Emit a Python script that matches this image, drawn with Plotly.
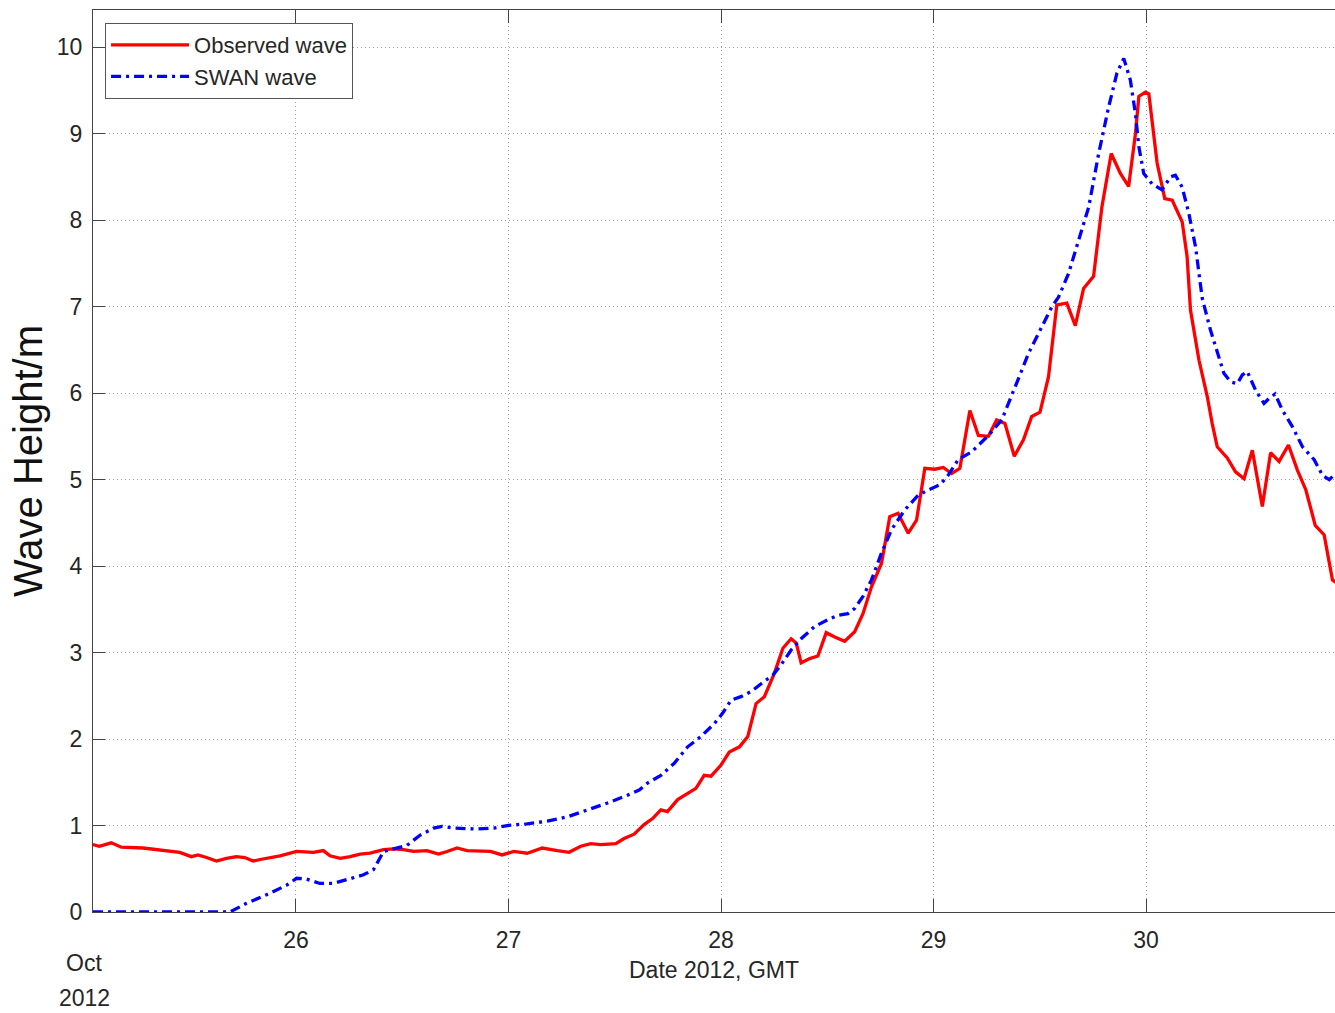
import plotly.graph_objects as go

# Day of October 2012 (GMT) and significant wave height (m)
obs_day = [25.044, 25.075, 25.131, 25.178, 25.280, 25.374, 25.453, 25.508, 25.539, 25.579,
           25.626, 25.673, 25.720, 25.759, 25.799, 25.838, 25.925, 26.003, 26.082, 26.129,
           26.160, 26.208, 26.255, 26.302, 26.349, 26.412, 26.459, 26.506, 26.553, 26.616,
           26.671, 26.711, 26.758, 26.805, 26.868, 26.915, 26.970, 27.025, 27.088, 27.159,
           27.230, 27.285, 27.340, 27.387, 27.434, 27.505, 27.544, 27.591, 27.638, 27.678,
           27.717, 27.748, 27.796, 27.843, 27.882, 27.921, 27.953, 28.000, 28.039, 28.087,
           28.126, 28.165, 28.204, 28.251, 28.291, 28.330, 28.354, 28.377, 28.417, 28.456,
           28.495, 28.535, 28.582, 28.629, 28.668, 28.708, 28.755, 28.794, 28.833, 28.881,
           28.920, 28.959, 29.006, 29.046, 29.085, 29.124, 29.171, 29.211, 29.258, 29.297,
           29.336, 29.380, 29.423, 29.462, 29.501, 29.541, 29.580, 29.627, 29.667, 29.706,
           29.753, 29.792, 29.836, 29.879, 29.918, 29.950, 29.966, 29.997, 30.013, 30.052,
           30.088, 30.123, 30.170, 30.193, 30.209, 30.249, 30.288, 30.311, 30.335, 30.382,
           30.421, 30.461, 30.500, 30.547, 30.586, 30.626, 30.670, 30.712, 30.752, 30.796,
           30.838, 30.877, 30.901]
obs_height = [0.78, 0.76, 0.80, 0.75, 0.74, 0.71, 0.69, 0.64, 0.66, 0.63,
              0.59, 0.62, 0.64, 0.63, 0.59, 0.61, 0.65, 0.70, 0.69, 0.71,
              0.65, 0.62, 0.64, 0.67, 0.68, 0.72, 0.73, 0.72, 0.70, 0.71,
              0.67, 0.70, 0.74, 0.71, 0.70, 0.70, 0.66, 0.70, 0.68, 0.74,
              0.71, 0.69, 0.76, 0.79, 0.78, 0.79, 0.85, 0.90, 1.01, 1.08,
              1.18, 1.16, 1.30, 1.37, 1.43, 1.58, 1.57, 1.70, 1.85, 1.91,
              2.03, 2.41, 2.49, 2.76, 3.05, 3.16, 3.11, 2.88, 2.93, 2.96,
              3.23, 3.18, 3.13, 3.24, 3.45, 3.76, 4.03, 4.57, 4.61, 4.38,
              4.53, 5.13, 5.12, 5.14, 5.07, 5.13, 5.80, 5.51, 5.50, 5.69,
              5.65, 5.27, 5.46, 5.73, 5.78, 6.19, 7.02, 7.04, 6.78, 7.21,
              7.35, 8.15, 8.77, 8.54, 8.39, 9.00, 9.43, 9.48, 9.46, 8.66,
              8.25, 8.23, 7.98, 7.58, 6.96, 6.38, 5.96, 5.65, 5.38, 5.25,
              5.09, 5.01, 5.34, 4.69, 5.31, 5.21, 5.40, 5.11, 4.88, 4.47,
              4.36, 3.84, 3.80]

swan_day = [25.045, 25.689, 25.767, 25.862, 25.956, 26.003, 26.050, 26.113, 26.176, 26.239,
            26.318, 26.365, 26.412, 26.459, 26.522, 26.585, 26.648, 26.687, 26.742, 26.852,
            26.931, 26.994, 27.088, 27.182, 27.277, 27.371, 27.466, 27.560, 27.615, 27.654,
            27.717, 27.780, 27.843, 27.906, 27.969, 28.008, 28.047, 28.094, 28.142, 28.189,
            28.244, 28.283, 28.330, 28.377, 28.440, 28.503, 28.550, 28.597, 28.629, 28.668,
            28.708, 28.755, 28.802, 28.865, 28.928, 28.975, 29.030, 29.069, 29.116, 29.179,
            29.258, 29.321, 29.360, 29.400, 29.447, 29.494, 29.557, 29.588, 29.635, 29.683,
            29.730, 29.777, 29.824, 29.863, 29.895, 29.926, 29.950, 29.966, 29.989, 30.028,
            30.075, 30.115, 30.138, 30.170, 30.201, 30.233, 30.264, 30.303, 30.335, 30.366,
            30.398, 30.429, 30.453, 30.476, 30.516, 30.555, 30.579, 30.607, 30.642, 30.689,
            30.736, 30.791, 30.830, 30.862, 30.901]
swan_height = [0.00, 0.00, 0.10, 0.20, 0.31, 0.39, 0.38, 0.33, 0.33, 0.37,
               0.43, 0.49, 0.70, 0.73, 0.77, 0.89, 0.97, 0.99, 0.97, 0.96,
               0.97, 1.00, 1.02, 1.05, 1.10, 1.18, 1.26, 1.35, 1.41, 1.49,
               1.58, 1.72, 1.91, 2.03, 2.18, 2.30, 2.45, 2.49, 2.55, 2.64,
               2.74, 2.86, 3.03, 3.16, 3.30, 3.38, 3.43, 3.45, 3.51, 3.65,
               3.84, 4.15, 4.42, 4.65, 4.82, 4.88, 4.94, 5.05, 5.23, 5.32,
               5.51, 5.69, 5.92, 6.17, 6.46, 6.69, 7.00, 7.11, 7.38, 7.77,
               8.15, 8.77, 9.31, 9.70, 9.87, 9.62, 9.23, 8.85, 8.54, 8.42,
               8.35, 8.50, 8.52, 8.38, 8.08, 7.69, 7.10, 6.73, 6.46, 6.23,
               6.13, 6.11, 6.21, 6.25, 6.03, 5.88, 5.94, 5.99, 5.80, 5.61,
               5.38, 5.23, 5.05, 5.00, 5.09]

x_ticks = [26, 27, 28, 29, 30]
x_tick_labels = ["26", "27", "28", "29", "30"]
y_ticks = list(range(0, 11))
month_label = "Oct"
year_label = "2012"

FONT = "Liberation Sans, Arial, sans-serif"
TXT = "#262626"

fig = go.Figure()
fig.add_trace(go.Scatter(x=obs_day, y=obs_height, mode="lines", name="Observed wave",
                         line=dict(color="#ff0000", width=3.3)))
fig.add_trace(go.Scatter(x=swan_day, y=swan_height, mode="lines", name="SWAN wave",
                         line=dict(color="#0000ff", width=3.3, dash="10px,5px,3px,5px")))

fig.update_layout(
    width=1335, height=1013,
    margin=dict(l=93, r=0, t=10, b=101),
    plot_bgcolor="white", paper_bgcolor="white",
    font=dict(family=FONT, size=23, color=TXT),
    legend=dict(x=0.0097, y=0.9856, xanchor="left", yanchor="top",
                bgcolor="white", bordercolor="#555555", borderwidth=1,
                font=dict(family=FONT, size=22, color=TXT),
                itemwidth=78, tracegroupgap=0),
    xaxis=dict(range=[25.045, 30.889], tickmode="array", tickvals=x_ticks,
               ticktext=x_tick_labels, ticks="inside", ticklen=13, tickcolor="#444444",
               showline=True, linecolor="#444444", linewidth=1, mirror="ticks",
               showgrid=True, gridcolor="#a0a0a0", gridwidth=1, griddash="1px,3px",
               zeroline=False, ticklabelstandoff=7,
               tickfont=dict(family=FONT, size=23, color=TXT),
               title=dict(text="Date 2012, GMT", standoff=10,
                          font=dict(family=FONT, size=23, color=TXT))),
    yaxis=dict(range=[0, 10.43], tickmode="array", tickvals=y_ticks,
               ticks="inside", ticklen=12, tickcolor="#444444",
               showline=True, linecolor="#444444", linewidth=1, mirror=False,
               showgrid=True, gridcolor="#a0a0a0", gridwidth=1, griddash="1px,3px",
               zeroline=False, ticklabelstandoff=5,
               tickfont=dict(family=FONT, size=23, color=TXT),
               title=dict(text="Wave Height/m", standoff=1,
                          font=dict(family=FONT, size=40, color="#111111"))),
    annotations=[
        dict(text=month_label, xref="paper", yref="paper", x=-0.007, y=-0.0565,
             xanchor="center", yanchor="middle", showarrow=False,
             font=dict(family=FONT, size=23, color=TXT)),
        dict(text=year_label, xref="paper", yref="paper", x=-0.007, y=-0.0953,
             xanchor="center", yanchor="middle", showarrow=False,
             font=dict(family=FONT, size=23, color=TXT)),
    ],
)

fig.write_html("out.html", config={"displayModeBar": False},
               post_script="document.body.style.margin='0';")
